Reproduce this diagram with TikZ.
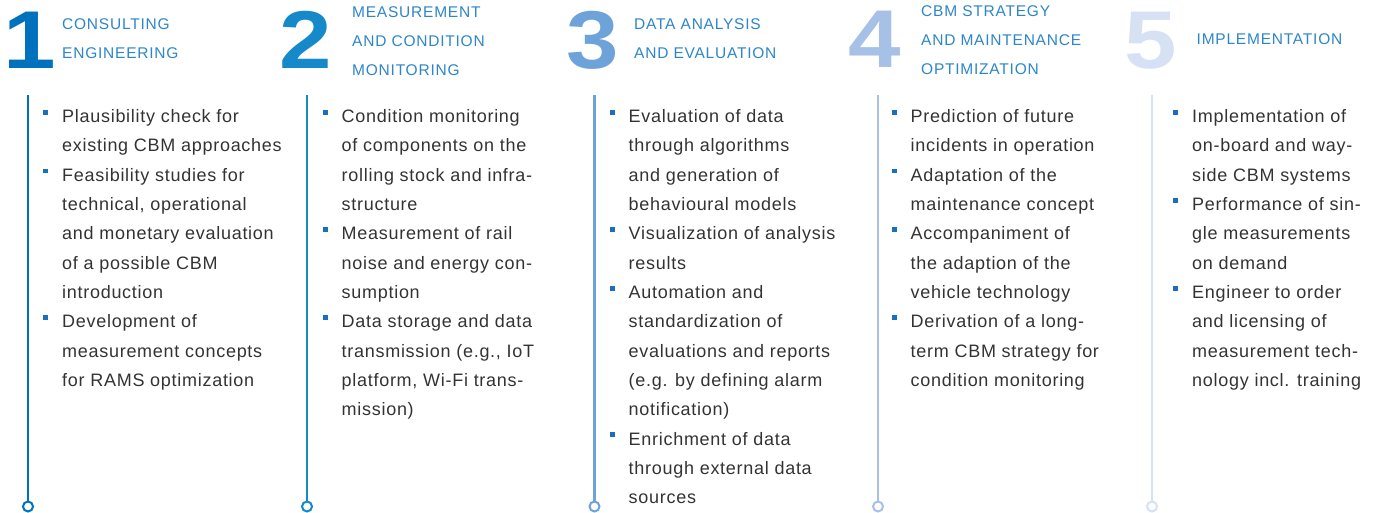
\documentclass[tikz,border=0pt]{standalone}
\usepackage{fontspec}
\setmainfont{Liberation Sans}
\newfontfamily\bodyfont{Liberation Sans}[LetterSpace=4]
\newfontfamily\headfont{Liberation Sans}[LetterSpace=5]
\definecolor{cA}{RGB}{0,113,188}
\definecolor{cB}{RGB}{22,137,202}
\definecolor{cC}{RGB}{110,163,218}
\definecolor{cD}{RGB}{167,192,230}
\definecolor{cE}{RGB}{214,226,244}
\definecolor{headc}{RGB}{46,134,200}
\definecolor{bodytxt}{RGB}{51,51,51}
\definecolor{bulc}{RGB}{26,110,190}
\tikzset{
  num/.style={anchor=base west, inner sep=0pt, font=\fontsize{82}{82}\selectfont\bfseries},
  headtxt/.style={anchor=base west, inner sep=0pt, text=headc, font=\headfont\fontsize{15.5}{29}\selectfont},
  bodyline/.style={anchor=base west, inner sep=0pt, text=bodytxt, font=\bodyfont\fontsize{18}{29.3}\selectfont},
  bul/.style={fill=bulc, draw=none, minimum size=4.8pt, inner sep=0pt},
  vline/.style={line width=2.4pt},
  endc/.style={circle, line width=2pt, fill=white, minimum size=10pt, inner sep=0pt}
}
\newcommand\bignum[1]{\scalebox{1.15}[1]{#1}}
\newcommand\bodycol[4]{%
  \foreach \txt [count=\i from 0] in {#4} {
    \node[bodyline] (#1l\i) at (#2, 122.7+29.3*\i) {\txt};
  }
  \foreach \b in {#3} {
    \node[bul] (#1b\b) at (#2-16.3, 112.4+29.3*\b) {};
  }
}
\newcommand\timeline[3]{%
  \coordinate (#1t) at (#2,95);
  \node[endc, draw=#3] (#1e) at (#2,506.5) {};
  \draw[vline, #3] (#1t) -- (#1e.north);
}
\begin{document}
\begin{tikzpicture}[x=1pt,y=-1pt]
\useasboundingbox (0,0) rectangle (1378,513);
% big numbers
\node[num, text=cA] (n1) at (3,68.5) {\bignum{1}};
\node[num, text=cB] (n2) at (279,68.5) {\bignum{2}};
\node[num, text=cC] (n3) at (566,68.5) {\bignum{3}};
\node[num, text=cD] (n4) at (848,67.5) {\bignum{4}};
\node[num, text=cE] (n5) at (1124,68.5) {\bignum{5}};
% headings
\node[headtxt] (h1a) at (62,29.3) {CONSULTING};
\node[headtxt] (h1b) at (62,58.3) {ENGINEERING};
\node[headtxt] (h2a) at (352,17.5) {MEASUREMENT};
\node[headtxt] (h2b) at (352,46.5) {AND CONDITION};
\node[headtxt] (h2c) at (352,75.5) {MONITORING};
\node[headtxt] (h3a) at (634,29.3) {DATA ANALYSIS};
\node[headtxt] (h3b) at (634,58.3) {AND EVALUATION};
\node[headtxt] (h4a) at (921,16.7) {CBM STRATEGY};
\node[headtxt] (h4b) at (921,45.7) {AND MAINTENANCE};
\node[headtxt] (h4c) at (921,74.7) {OPTIMIZATION};
\node[headtxt] (h5a) at (1196.5,44.3) {IMPLEMENTATION};
% timelines
\timeline{v1}{28}{cA}
\timeline{v2}{307}{cB}
\timeline{v3}{594.5}{cC}
\timeline{v4}{878}{cD}
\timeline{v5}{1152}{cE}
% body
\bodycol{a}{62}{0,2,7}{Plausibility check for, existing CBM approaches, Feasibility studies for, {technical, operational}, and monetary evaluation, of a possible CBM, introduction, Development of, measurement concepts, for RAMS optimization}
\bodycol{b}{341.5}{0,4,7}{Condition monitoring, of components on the, rolling stock and infra-, structure, Measurement of rail, noise and energy con-, sumption, Data storage and data, {transmission (e.g., IoT}, {platform, Wi-Fi trans-}, {mission)}}
\bodycol{c}{628.5}{0,4,6,11}{Evaluation of data, through algorithms, and generation of, behavioural models, Visualization of analysis, results, Automation and, standardization of, evaluations and reports, {(e.g. by defining alarm}, {notification)}, Enrichment of data, through external data, sources}
\bodycol{d}{910.5}{0,2,4,7}{Prediction of future, incidents in operation, Adaptation of the, maintenance concept, Accompaniment of, the adaption of the, vehicle technology, Derivation of a long-, term CBM strategy for, condition monitoring}
\bodycol{e}{1192}{0,3,6}{Implementation of, on-board and way-, side CBM systems, Performance of sin-, gle measurements, on demand, Engineer to order, and licensing of, measurement tech-, nology incl. training}
\end{tikzpicture}
\end{document}
